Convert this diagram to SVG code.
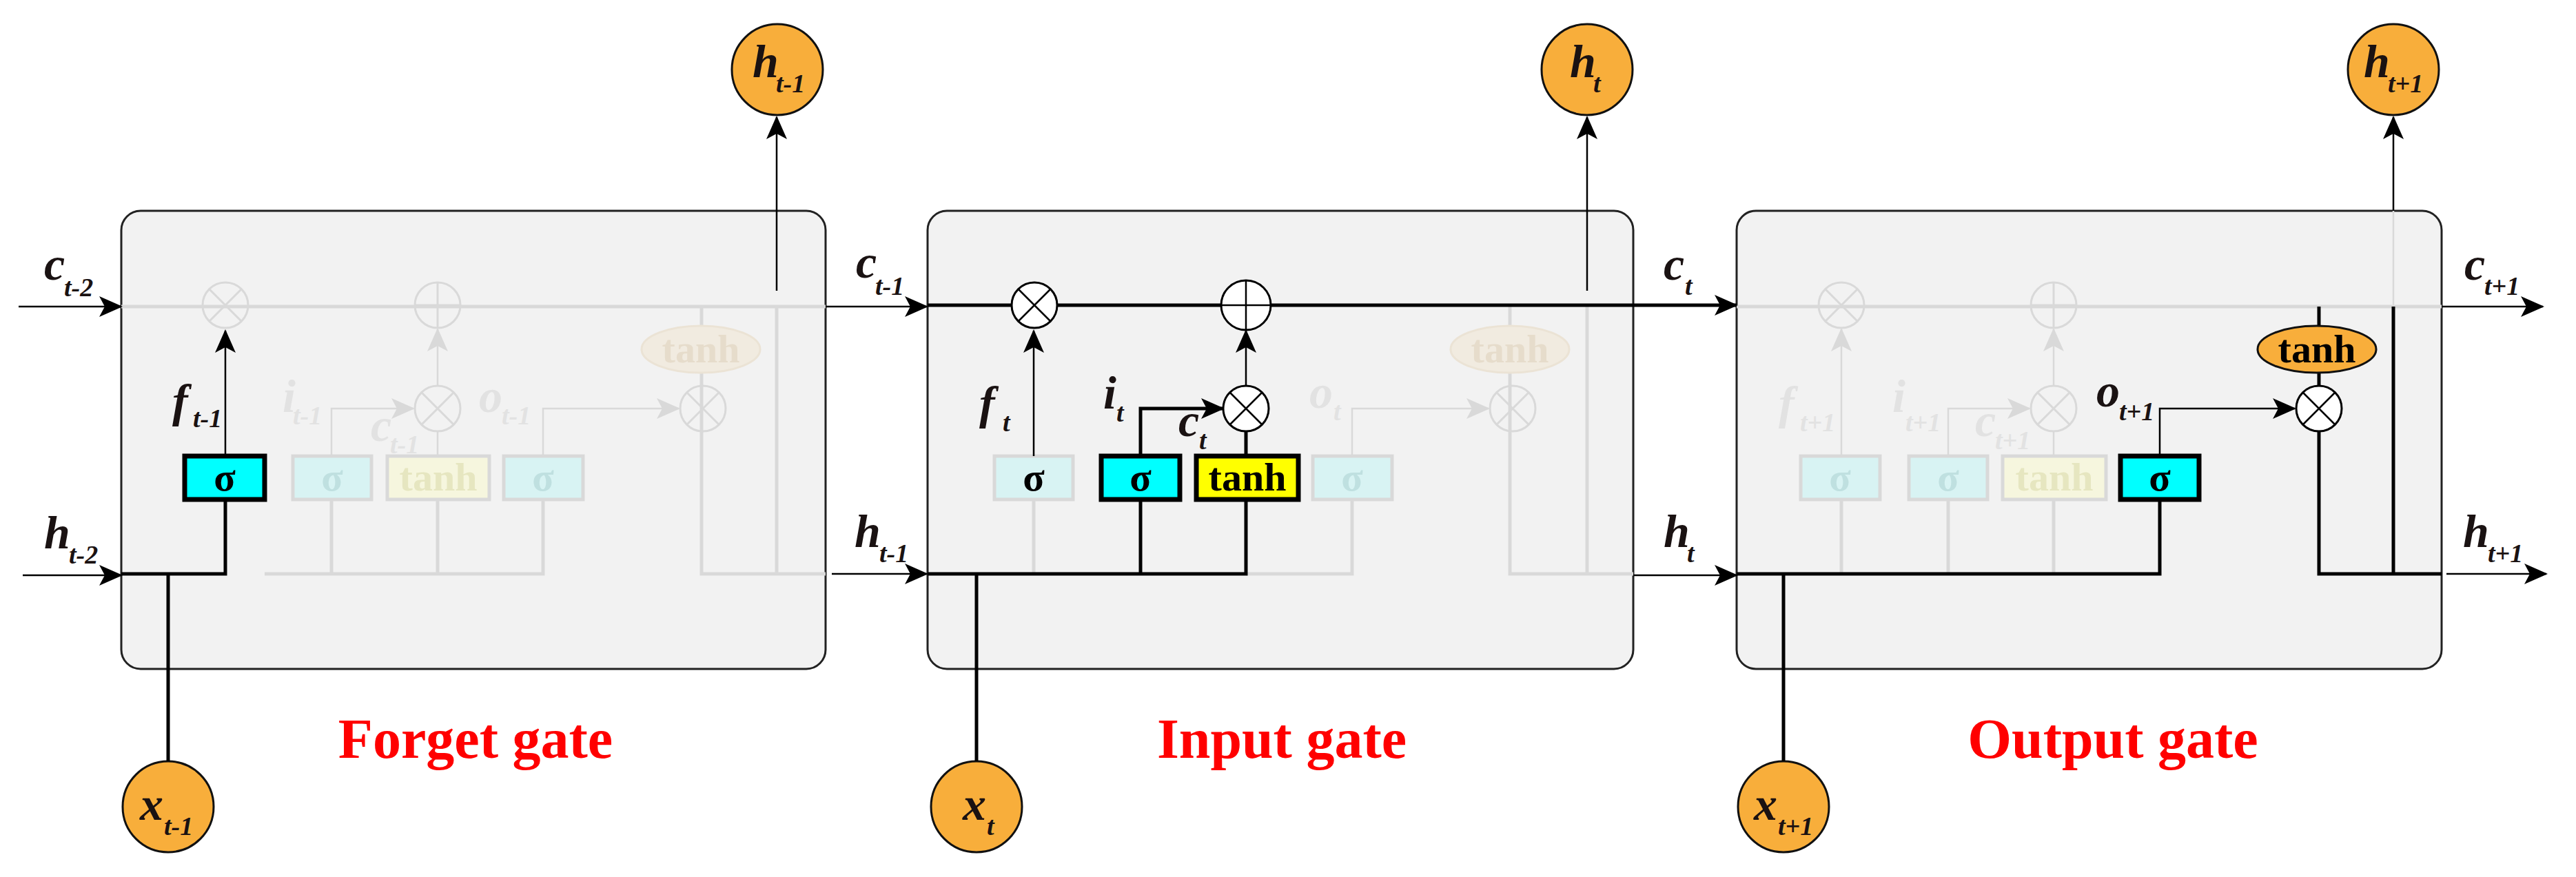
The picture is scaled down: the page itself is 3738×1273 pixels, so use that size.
<svg xmlns="http://www.w3.org/2000/svg" width="3738" height="1273" viewBox="0 0 3738 1273">
<defs>
<style>
.box{fill:#f2f2f2;stroke:#222;stroke-width:3}
.bl{stroke:#000;stroke-width:5;fill:none}
.tn{stroke:#000;stroke-width:2.5;fill:none}
.gr{stroke:#d9d9d9;stroke-width:5;fill:none}
.grt{stroke:#d9d9d9;stroke-width:2.5;fill:none}
.opk{fill:#fff;stroke:#000;stroke-width:3}
.opf{fill:none;stroke:#d9d9d9;stroke-width:3}
.orng{fill:#f8ae3b;stroke:#111;stroke-width:3}
.v{font-family:"Liberation Serif",serif;font-weight:bold;font-style:italic;font-size:68px;fill:#1a1212}
.s{font-family:"Liberation Serif",serif;font-weight:bold;font-style:italic;font-size:38px;fill:#1a1212}
.vf{font-family:"Liberation Serif",serif;font-weight:bold;font-style:italic;font-size:68px;fill:#e2e2e2}
.sf{font-family:"Liberation Serif",serif;font-weight:bold;font-style:italic;font-size:38px;fill:#e2e2e2}
.g{font-family:"Liberation Serif",serif;font-weight:bold;font-size:58px;text-anchor:middle}
.ttl{font-family:"Liberation Serif",serif;font-weight:bold;font-size:82px;fill:#ff0000;text-anchor:middle}
</style>
<marker id="ab" markerUnits="userSpaceOnUse" markerWidth="34" markerHeight="30" refX="32" refY="15" orient="auto"><path d="M0,0 L34,15 L0,30 L8,15 Z" fill="#000"/></marker>
<marker id="ag" markerUnits="userSpaceOnUse" markerWidth="34" markerHeight="30" refX="32" refY="15" orient="auto"><path d="M0,0 L34,15 L0,30 L8,15 Z" fill="#d9d9d9"/></marker>
</defs>

<!-- ===== Block 1: Forget gate ===== -->
<g id="block1">
<rect class="box" x="176" y="306" width="1022" height="665" rx="28"/>
<!-- faded internals -->
<path class="gr" d="M176,445 H1198"/>
<path class="gr" d="M384,833 H788 V725 M481,833 V725 M635,833 V725"/>
<path class="gr" d="M1018,445 V833 H1198 M1127,445 V833"/>
<path class="grt" d="M635,662 V626 M635,560 V478" marker-end="url(#ag)"/>
<path class="grt" d="M481,662 V593 H600" marker-end="url(#ag)"/>
<path class="grt" d="M788,662 V593 H985" marker-end="url(#ag)"/>
<circle class="opf" cx="635" cy="443" r="33"/><path class="opf" d="M602,443 H668 M635,410 V476"/>
<circle class="opf" cx="635" cy="593" r="33"/><path class="opf" d="M612,570 L658,616 M658,570 L612,616"/>
<circle class="opf" cx="1020" cy="593" r="33"/><path class="opf" d="M997,570 L1043,616 M1043,570 L997,616"/>
<ellipse cx="1017" cy="507" rx="86" ry="34" fill="#f1ebe0" stroke="#ebe3d5" stroke-width="3"/>
<text class="g" x="1017" y="526" fill="#e6dccb">tanh</text>
<rect x="425" y="662" width="114" height="63" fill="#d8f3f3" stroke="#d9d9d9" stroke-width="5"/>
<text class="g" x="482" y="712" fill="#bfe0e0">σ</text>
<rect x="562" y="662" width="148" height="63" fill="#f6f6de" stroke="#d9d9d9" stroke-width="5"/>
<text class="g" x="636" y="712" fill="#e6e6c0">tanh</text>
<rect x="731" y="662" width="115" height="63" fill="#d8f3f3" stroke="#d9d9d9" stroke-width="5"/>
<text class="g" x="788" y="712" fill="#bfe0e0">σ</text>
<text class="vf" x="410" y="598">i</text><text class="sf" x="425" y="616">t-1</text>
<text class="vf" x="538" y="640">c</text><text class="sf" x="566" y="658">t-1</text>
<text class="vf" x="695" y="598">o</text><text class="sf" x="728" y="616">t-1</text>
<!-- active -->
<path class="bl" d="M176,833 H327 V725"/>
<path class="tn" d="M327,662 V480" marker-end="url(#ab)"/>
<circle class="opf" cx="327" cy="443" r="33"/><path class="opf" d="M304,420 L350,466 M350,420 L304,466"/>
<rect x="268" y="662" width="116" height="63" fill="#00ffff" stroke="#000" stroke-width="7"/>
<text class="g" x="326" y="712" fill="#000">σ</text>
<text class="v" x="250" y="605">f</text><text class="s" x="280" y="620">t-1</text>
<text class="ttl" x="690" y="1100">Forget gate</text>
</g>

<!-- ===== Block 2: Input gate ===== -->
<g id="block2">
<rect class="box" x="1346" y="306" width="1024" height="665" rx="28"/>
<path class="gr" d="M1808,833 H1962 V725 M1500,833 V725"/>
<path class="gr" d="M2191,445 V833 H2370 M2303,445 V833"/>
<path class="grt" d="M1962,662 V593 H2160" marker-end="url(#ag)"/>
<circle class="opf" cx="2195" cy="593" r="33"/><path class="opf" d="M2172,570 L2218,616 M2218,570 L2172,616"/>
<ellipse cx="2191" cy="507" rx="86" ry="34" fill="#f1ebe0" stroke="#ebe3d5" stroke-width="3"/>
<text class="g" x="2191" y="526" fill="#e6dccb">tanh</text>
<rect x="1443" y="662" width="114" height="63" fill="#d8f3f3" stroke="#d9d9d9" stroke-width="5"/>
<text class="g" x="1500" y="712" fill="#000">σ</text>
<rect x="1905" y="662" width="115" height="63" fill="#d8f3f3" stroke="#d9d9d9" stroke-width="5"/>
<text class="g" x="1962" y="712" fill="#bfe0e0">σ</text>
<text class="vf" x="1900" y="592">o</text><text class="sf" x="1935" y="610">t</text>
<path class="bl" d="M1346,443 H2370"/>
<path class="bl" d="M1346,833 H1808 V725 M1655,833 V725"/>
<path class="tn" d="M1500,662 V480" marker-end="url(#ab)"/>
<path class="bl" d="M1808,662 V626"/>
<path class="tn" d="M1808,560 V480" marker-end="url(#ab)"/>
<path class="bl" d="M1655,662 V593 H1775" marker-end="url(#ab)"/>
<circle class="opk" cx="1501" cy="443" r="33"/><path class="tn" d="M1478,420 L1524,466 M1524,420 L1478,466"/>
<circle class="opk" cx="1808" cy="443" r="36"/><path class="tn" d="M1772,443 H1844 M1808,407 V479"/>
<circle class="opk" cx="1808" cy="593" r="33"/><path class="tn" d="M1785,570 L1831,616 M1831,570 L1785,616"/>
<rect x="1598" y="662" width="114" height="63" fill="#00ffff" stroke="#000" stroke-width="7"/>
<text class="g" x="1655" y="712" fill="#000">σ</text>
<rect x="1736" y="662" width="148" height="63" fill="#ffff00" stroke="#000" stroke-width="7"/>
<text class="g" x="1810" y="712" fill="#000">tanh</text>
<text class="v" x="1421" y="608">f</text><text class="s" x="1455" y="626">t</text>
<text class="v" x="1601" y="593">i</text><text class="s" x="1620" y="612">t</text>
<text class="v" x="1710" y="633">c</text><text class="s" x="1740" y="652">t</text>
<text class="ttl" x="1860" y="1100">Input gate</text>
</g>

<!-- ===== Block 3: Output gate ===== -->
<g id="block3">
<rect class="box" x="2520" y="306" width="1023" height="665" rx="28"/>
<path class="gr" d="M2520,445 H3543"/>
<path class="gr" d="M2672,833 V725 M2827,833 V725 M2980,833 V725"/>
<path class="grt" d="M2672,662 V478" marker-end="url(#ag)"/>
<path class="grt" d="M2980,662 V626 M2980,560 V478" marker-end="url(#ag)"/>
<path class="grt" d="M2827,662 V593 H2945" marker-end="url(#ag)"/>
<path class="grt" d="M3473,306 V445"/>
<circle class="opf" cx="2672" cy="443" r="33"/><path class="opf" d="M2649,420 L2695,466 M2695,420 L2649,466"/>
<circle class="opf" cx="2980" cy="443" r="33"/><path class="opf" d="M2947,443 H3013 M2980,410 V476"/>
<circle class="opf" cx="2980" cy="593" r="33"/><path class="opf" d="M2957,570 L3003,616 M3003,570 L2957,616"/>
<rect x="2613" y="662" width="115" height="63" fill="#d8f3f3" stroke="#d9d9d9" stroke-width="5"/>
<text class="g" x="2670" y="712" fill="#bfe0e0">σ</text>
<rect x="2770" y="662" width="114" height="63" fill="#d8f3f3" stroke="#d9d9d9" stroke-width="5"/>
<text class="g" x="2827" y="712" fill="#bfe0e0">σ</text>
<rect x="2906" y="662" width="150" height="63" fill="#f6f6de" stroke="#d9d9d9" stroke-width="5"/>
<text class="g" x="2981" y="712" fill="#e6e6c0">tanh</text>
<text class="vf" x="2581" y="608">f</text><text class="sf" x="2612" y="626">t+1</text>
<text class="vf" x="2746" y="598">i</text><text class="sf" x="2765" y="626">t+1</text>
<text class="vf" x="2866" y="633">c</text><text class="sf" x="2895" y="652">t+1</text>
<path class="bl" d="M2520,833 H3134 V725"/>
<path class="tn" d="M3134,662 V593 H3330" marker-end="url(#ab)"/>
<path class="bl" d="M3365,445 V473 M3365,541 V560 M3365,626 V833 H3543 M3473,445 V833"/>
<ellipse class="orng" cx="3362" cy="507" rx="86" ry="34"/>
<text class="g" x="3362" y="526" fill="#000">tanh</text>
<circle class="opk" cx="3365" cy="593" r="33"/><path class="tn" d="M3342,570 L3388,616 M3388,570 L3342,616"/>
<rect x="3077" y="662" width="114" height="63" fill="#00ffff" stroke="#000" stroke-width="7"/>
<text class="g" x="3134" y="712" fill="#000">σ</text>
<text class="v" x="3042" y="590">o</text><text class="s" x="3075" y="610">t+1</text>
<text class="ttl" x="3066" y="1100">Output gate</text>
</g>

<!-- ===== Inputs / outputs ===== -->
<g id="in-out-nodes">
<circle class="orng" cx="1128" cy="101" r="66"/><text class="v" x="1092" y="112">h</text><text class="s" x="1126" y="134">t-1</text>
<circle class="orng" cx="2303" cy="101" r="66"/><text class="v" x="2278" y="112">h</text><text class="s" x="2312" y="134">t</text>
<circle class="orng" cx="3473" cy="101" r="66"/><text class="v" x="3430" y="112">h</text><text class="s" x="3465" y="134">t+1</text>
<circle class="orng" cx="244" cy="1171" r="66"/><text class="v" x="203" y="1190">x</text><text class="s" x="238" y="1212">t-1</text>
<circle class="orng" cx="1417" cy="1171" r="66"/><text class="v" x="1397" y="1190">x</text><text class="s" x="1432" y="1212">t</text>
<circle class="orng" cx="2588" cy="1171" r="66"/><text class="v" x="2545" y="1190">x</text><text class="s" x="2580" y="1212">t+1</text>
</g>

<g id="connectors">
<path class="bl" d="M244,1105 V833"/>
<path class="bl" d="M1417,1105 V833"/>
<path class="bl" d="M2588,1105 V833"/>
<path class="tn" d="M1127,422 V170" marker-end="url(#ab)"/>
<path class="tn" d="M2303,422 V170" marker-end="url(#ab)"/>
<path class="tn" d="M3473,306 V170" marker-end="url(#ab)"/>
<path class="tn" d="M27,445 H176" marker-end="url(#ab)"/>
<path class="tn" d="M33,835 H176" marker-end="url(#ab)"/>
<path class="tn" d="M1198,445 H1345" marker-end="url(#ab)"/>
<path class="tn" d="M1207,833 H1345" marker-end="url(#ab)"/>
<path class="bl" d="M2370,443 H2520" marker-end="url(#ab)"/>
<path class="tn" d="M2370,835 H2520" marker-end="url(#ab)"/>
<path class="tn" d="M3543,445 H3690" marker-end="url(#ab)"/>
<path class="tn" d="M3550,833 H3695" marker-end="url(#ab)"/>
</g>

<g id="edge-labels">
<text class="v" x="64" y="406">c</text><text class="s" x="93" y="430">t-2</text>
<text class="v" x="64" y="796">h</text><text class="s" x="100" y="818">t-2</text>
<text class="v" x="1242" y="403">c</text><text class="s" x="1270" y="428">t-1</text>
<text class="v" x="1240" y="794">h</text><text class="s" x="1276" y="816">t-1</text>
<text class="v" x="2414" y="406">c</text><text class="s" x="2445" y="428">t</text>
<text class="v" x="2414" y="794">h</text><text class="s" x="2448" y="816">t</text>
<text class="v" x="3576" y="406">c</text><text class="s" x="3605" y="428">t+1</text>
<text class="v" x="3574" y="794">h</text><text class="s" x="3610" y="816">t+1</text>
</g>
</svg>
